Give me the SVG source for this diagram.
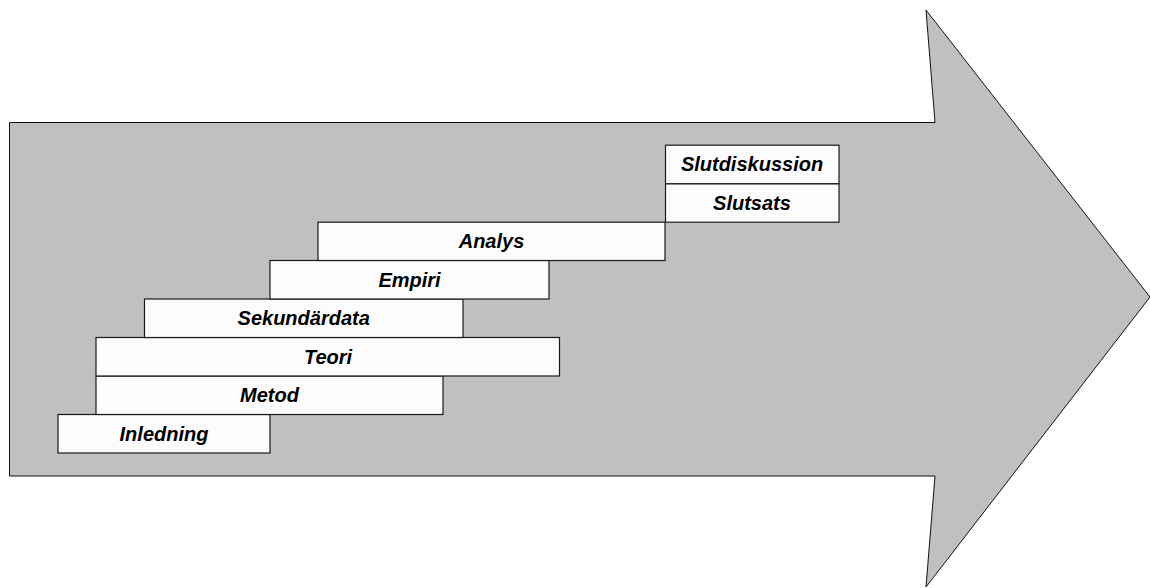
<svg xmlns="http://www.w3.org/2000/svg" width="1150" height="588" viewBox="0 0 1150 588">
  <style>
    .box rect { fill: #fcfcfc; stroke: #1a1a1a; stroke-width: 1.2; }
    .box text { font-family: "Liberation Sans", Arial, sans-serif; font-size: 20px; font-weight: bold; font-style: italic; fill: #000; text-anchor: middle; }
  </style>
  <rect width="1150" height="588" fill="#ffffff"/>

  <!-- big process arrow -->
  <g id="arrow">
    <path d="M9.5,122.5 L935,122.5 L926,10 L1150,297 L926,587 L935,476 L9.5,476 Z" fill="#c0c0c0" stroke="#111" stroke-width="1"/>
  </g>

  <!-- stacked stages, bottom to top -->
  <g id="inledning" class="box">
    <rect x="58" y="414.5" width="212" height="38.5"/>
    <text x="164" y="440.5">Inledning</text>
  </g>
  <g id="metod" class="box">
    <rect x="96" y="376" width="347" height="38.5"/>
    <text x="269.5" y="402">Metod</text>
  </g>
  <g id="teori" class="box">
    <rect x="96" y="337.5" width="463.5" height="38.5"/>
    <text x="328" y="363.5">Teori</text>
  </g>
  <g id="sekundardata" class="box">
    <rect x="144.5" y="299" width="318.5" height="38.5"/>
    <text x="303.7" y="325">Sekundärdata</text>
  </g>
  <g id="empiri" class="box">
    <rect x="270" y="260.5" width="279" height="38.5"/>
    <text x="409.5" y="286.5">Empiri</text>
  </g>
  <g id="analys" class="box">
    <rect x="318" y="222.2" width="347" height="38.3"/>
    <text x="491.5" y="248">Analys</text>
  </g>
  <g id="slutsats" class="box">
    <rect x="665.5" y="183.7" width="173.5" height="38.5"/>
    <text x="752" y="209.7">Slutsats</text>
  </g>
  <g id="slutdiskussion" class="box">
    <rect x="665.5" y="145.2" width="173.5" height="38.5"/>
    <text x="752" y="171">Slutdiskussion</text>
  </g>

  <g id="connectors"></g>
</svg>
